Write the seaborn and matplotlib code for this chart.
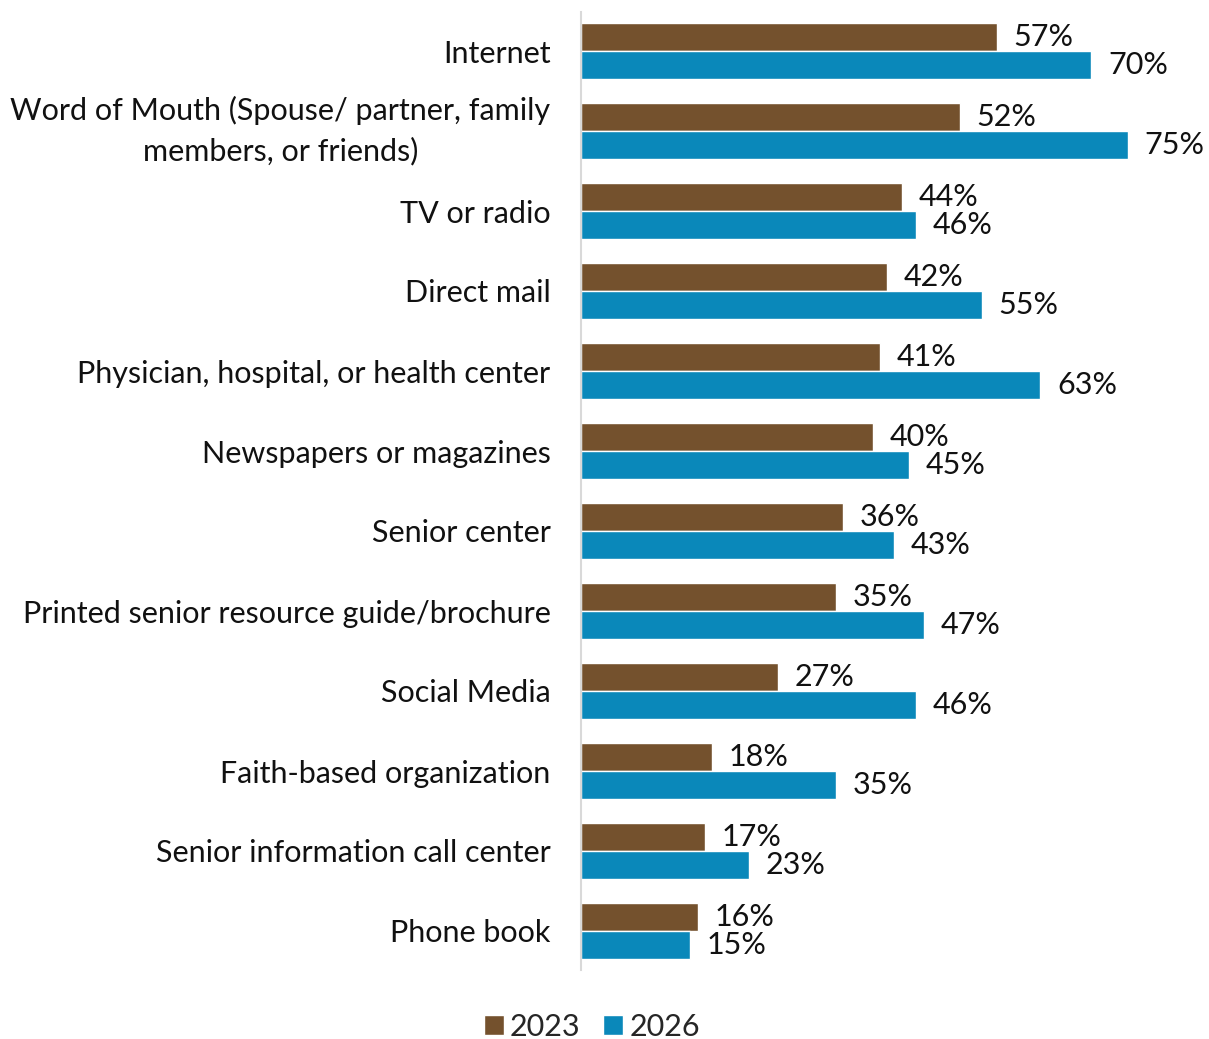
import matplotlib
matplotlib.use("Agg")
import matplotlib.pyplot as plt
import seaborn as sns
import pandas as pd
from matplotlib.patches import Patch

categories = [
    "Internet",
    "Word of Mouth (Spouse/ partner, family\nmembers, or friends)",
    "TV or radio",
    "Direct mail",
    "Physician, hospital, or health center",
    "Newspapers or magazines",
    "Senior center",
    "Printed senior resource guide/brochure",
    "Social Media",
    "Faith-based organization",
    "Senior information call center",
    "Phone book",
]
values_2023 = [57, 52, 44, 42, 41, 40, 36, 35, 27, 18, 17, 16]
values_2026 = [70, 75, 46, 55, 63, 45, 43, 47, 46, 35, 23, 15]
years = ["2023", "2026"]
colors = {"2023": "#74512D", "2026": "#0A88BA"}

df = pd.DataFrame({
    "source": categories * 2,
    "year": [years[0]] * len(categories) + [years[1]] * len(categories),
    "pct": values_2023 + values_2026,
})

sns.set_theme(style="white")
plt.rcParams["font.family"] = ["Lato", "DejaVu Sans"]
FS = 22

fig = plt.figure(figsize=(12.09, 10.39), dpi=100)
ax = fig.add_axes([581 / 1209, 1 - 970 / 1039, (1173 - 581) / 1209, (970 - 12) / 1039])

sns.barplot(data=df, y="source", x="pct", hue="year", order=categories,
            hue_order=years, palette=colors, orient="h", width=0.7,
            saturation=1, ax=ax, legend=False)

for container in ax.containers:
    ax.bar_label(container, labels=[f"{v:.0f}%" for v in container.datavalues],
                 padding=12, fontsize=FS, color="#111111")

ax.set_xlim(0, (1173 - 581) / 7.29)
ax.set_ylim(11.4875, -0.4875)
ax.set_xlabel("")
ax.set_ylabel("")
ax.set_xticks([])
for side in ["top", "right", "bottom"]:
    ax.spines[side].set_visible(False)
ax.spines["left"].set_color("#D9D9D9")
ax.spines["left"].set_linewidth(1.5)
ax.tick_params(axis="y", length=0, pad=22, labelsize=FS, labelcolor="#111111")
for lbl in ax.get_yticklabels():
    if "\n" in lbl.get_text():
        lbl.set_multialignment("center")
        lbl.set_linespacing(1.5)
        lbl.set_verticalalignment("center")

handles = [Patch(facecolor=colors[y], label=y) for y in years]
fig.legend(handles=handles, loc="center", bbox_to_anchor=(592 / 1209, 1 - 1027 / 1039),
           ncol=2, frameon=False, fontsize=FS, handlelength=0.65, handleheight=0.65,
           handletextpad=0.2, columnspacing=0.75)

fig.savefig("out.png", dpi=100)
